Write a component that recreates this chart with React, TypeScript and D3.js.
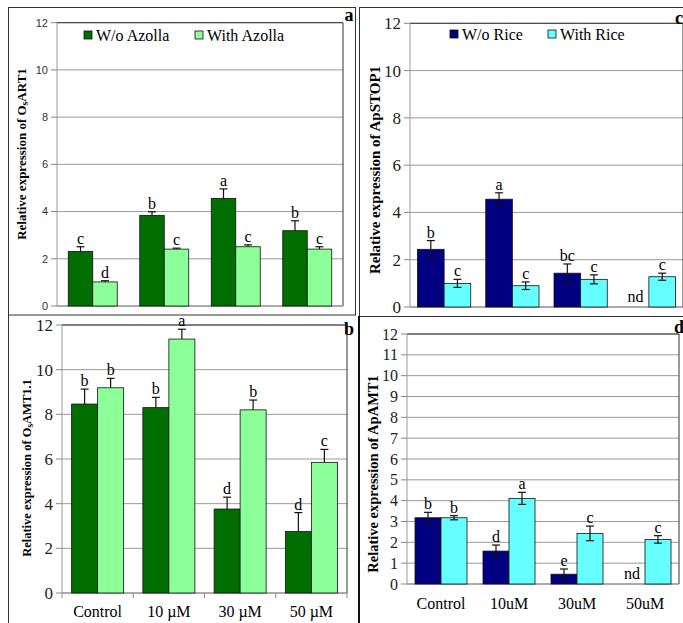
import React from 'react';
import * as d3 from 'd3';

// Categories
const dosesB = ['Control', '10 µM', '30 µM', '50 µM'];
const dosesD = ['Control', '10uM', '30uM', '50uM'];

// Panel a: OsART1
const art1Without = [2.31, 3.84, 4.56, 3.19];
const art1WithoutErr = [0.2, 0.15, 0.4, 0.42];
const art1WithoutLetters = ['c', 'b', 'a', 'b'];
const art1With = [1.02, 2.41, 2.51, 2.41];
const art1WithErr = [0.05, 0.04, 0.08, 0.1];
const art1WithLetters = ['d', 'c', 'c', 'c'];

// Panel c: ApSTOP1 (null = not detected)
const stopWithout = [2.44, 4.56, 1.43, null];
const stopWithoutErr = [0.37, 0.27, 0.39, 0];
const stopWithoutLetters = ['b', 'a', 'bc', 'nd'];
const stopWith = [1.0, 0.9, 1.17, 1.28];
const stopWithErr = [0.17, 0.16, 0.19, 0.15];
const stopWithLetters = ['c', 'c', 'c', 'c'];

// Panel b: OsAMT1.1
const amt11Without = [8.46, 8.3, 3.76, 2.75];
const amt11WithoutErr = [0.67, 0.46, 0.53, 0.85];
const amt11WithoutLetters = ['b', 'b', 'd', 'd'];
const amt11With = [9.19, 11.37, 8.2, 5.85];
const amt11WithErr = [0.42, 0.44, 0.44, 0.58];
const amt11WithLetters = ['b', 'a', 'b', 'c'];

// Panel d: ApAMT1
const apamtWithout = [3.18, 1.58, 0.47, null];
const apamtWithoutErr = [0.26, 0.29, 0.25, 0];
const apamtWithoutLetters = ['b', 'd', 'e', 'nd'];
const apamtWith = [3.18, 4.11, 2.43, 2.14];
const apamtWithErr = [0.1, 0.29, 0.35, 0.18];
const apamtWithLetters = ['b', 'a', 'c', 'c'];

const serif = '"Liberation Serif", "Times New Roman", serif';
const sans = '"Liberation Sans", Arial, sans-serif';

type Series = {
  values: (number | null)[];
  errs: number[];
  letters: string[];
  color: string;
};

type PanelProps = {
  x0: number; x1: number; y0: number; y1: number;
  pad: number;
  ticks: number[];
  tickFont: string; tickSize: number; tickColor: string;
  errBoth: boolean;
  series: Series[];
  categories: string[];
  xLabels?: string[];
  xLabelY?: number;
  xTickMarks?: boolean;
  yLabel: React.ReactNode;
  yLabelX: number; yLabelY: number; yLabelSize: number;
  legend?: { names: string[]; xs: number[]; y: number };
  tag: { text: string; x: number; y: number };
};

const Panel = (p: PanelProps) => {
  const y = d3.scaleLinear().domain([0, 12]).range([p.y1, p.y0]);
  const x = d3.scaleBand<string>().domain(p.categories).range([p.x0, p.x1])
    .paddingInner(p.pad).paddingOuter(p.pad / 2);
  const inner = d3.scaleBand<number>().domain(p.series.map((_, i) => i))
    .range([0, x.bandwidth()]);
  const bw = inner.bandwidth();

  return (
    <g>
      {p.ticks.map(t => (
        <g key={t}>
          <line x1={p.x0} x2={p.x1} y1={y(t)} y2={y(t)} stroke="#9a9a9a" strokeWidth={1} />
          <line x1={p.x0 - 6} x2={p.x0} y1={y(t)} y2={y(t)} stroke="#888" />
          <text x={p.x0 - 9} y={y(t)} dy="0.35em" textAnchor="end"
            fontFamily={p.tickFont} fontSize={p.tickSize} fill={p.tickColor}>{t}</text>
        </g>
      ))}
      <line x1={p.x0} x2={p.x1} y1={p.y0} y2={p.y0} stroke="#333" />
      <line x1={p.x1} x2={p.x1} y1={p.y0} y2={p.y1} stroke="#333" />
      <line x1={p.x0} x2={p.x0} y1={p.y0} y2={p.y1} stroke="#999" />
      <line x1={p.x0} x2={p.x1} y1={p.y1} y2={p.y1} stroke="#888" />
      {p.xTickMarks && d3.range(p.categories.length + 1).map(i => {
        const xx = p.x0 + (i * (p.x1 - p.x0)) / p.categories.length;
        return <line key={i} x1={xx} x2={xx} y1={p.y1} y2={p.y1 + 5} stroke="#888" />;
      })}
      {p.series.map((s, si) => (
        <g key={si}>
          {p.categories.map((c, ci) => {
            const v = s.values[ci];
            const bx = (x(c) as number) + (inner(si) as number);
            const cx = bx + bw / 2;
            if (v === null) {
              return (
                <text key={c} x={cx} y={p.y1 - 5} textAnchor="middle"
                  fontFamily={serif} fontSize={16}>{s.letters[ci]}</text>
              );
            }
            const e = s.errs[ci];
            const top = y(v + e);
            const bot = p.errBoth ? y(v - e) : y(v);
            return (
              <g key={c}>
                <rect x={bx} y={y(v)} width={bw} height={y(0) - y(v)}
                  fill={s.color} stroke="#111" strokeWidth={0.8} />
                <line x1={cx} x2={cx} y1={top} y2={bot} stroke="#111" strokeWidth={1.2} />
                <line x1={cx - 4} x2={cx + 4} y1={top} y2={top} stroke="#111" strokeWidth={1.2} />
                {p.errBoth && <line x1={cx - 4} x2={cx + 4} y1={bot} y2={bot} stroke="#111" strokeWidth={1.2} />}
                <text x={cx} y={top - 3} textAnchor="middle" fontFamily={serif}
                  fontSize={16}>{s.letters[ci]}</text>
              </g>
            );
          })}
        </g>
      ))}
      {p.xLabels && p.categories.map((c, ci) => (
        <text key={c} x={(x(c) as number) + x.bandwidth() / 2} y={p.xLabelY}
          textAnchor="middle" fontFamily={serif} fontSize={16}>{p.xLabels![ci]}</text>
      ))}
      <text transform={`translate(${p.yLabelX},${p.yLabelY}) rotate(-90)`} dy="0.35em"
        textAnchor="middle" fontFamily={serif} fontWeight="bold" fontSize={p.yLabelSize}>
        {p.yLabel}
      </text>
      {p.legend && p.series.map((s, si) => (
        <g key={si}>
          <rect x={p.legend!.xs[si]} y={p.legend!.y - 4} width={8} height={8}
            fill={s.color} stroke="#111" strokeWidth={0.8} />
          <text x={p.legend!.xs[si] + 12} y={p.legend!.y} dy="0.35em"
            fontFamily={serif} fontSize={16}>{p.legend!.names[si]}</text>
        </g>
      ))}
      <text x={p.tag.x} y={p.tag.y} textAnchor="middle" fontFamily={serif}
        fontWeight="bold" fontSize={18}>{p.tag.text}</text>
    </g>
  );
};

const darkGreen = '#006e00';
const lightGreen = '#8cff98';
const navy = '#000080';
const cyan = '#66ffff';

const ticks2 = d3.range(0, 13, 2);
const ticks1 = d3.range(0, 13, 1);

const App = () => (
  <svg width={683} height={623} style={{ position: 'absolute', left: 0, top: 0, background: '#fff' }}>
    <rect x={0} y={0} width={683} height={623} fill="#fff" />
    {/* panel frames */}
    <rect x={8.5} y={7.5} width={347} height={307.5} fill="none" stroke="#333" />
    <rect x={359.5} y={7.5} width={330} height={309} fill="none" stroke="#333" />
    <line x1={8.5} x2={8.5} y1={315} y2={623} stroke="#333" />
    <line x1={359} x2={359} y1={316} y2={623} stroke="#111" strokeWidth={2} />

    <Panel
      x0={57} x1={343} y0={22.7} y1={306} pad={0.315} ticks={ticks2}
      tickFont={sans} tickSize={11} tickColor="#333" errBoth={false}
      categories={dosesB}
      series={[
        { values: art1Without, errs: art1WithoutErr, letters: art1WithoutLetters, color: darkGreen },
        { values: art1With, errs: art1WithErr, letters: art1WithLetters, color: lightGreen },
      ]}
      yLabel={<>Relative expression of O<tspan fontSize="0.75em" dy="2">s</tspan><tspan dy="-2">ART1</tspan></>}
      yLabelX={21} yLabelY={154} yLabelSize={13}
      legend={{ names: ['W/o Azolla', 'With Azolla'], xs: [84, 195], y: 35 }}
      tag={{ text: 'a', x: 349, y: 21 }}
    />
    <Panel
      x0={410} x1={683} y0={23.3} y1={307} pad={0.22} ticks={ticks2}
      tickFont={serif} tickSize={17} tickColor="#222" errBoth={true}
      categories={dosesD}
      series={[
        { values: stopWithout, errs: stopWithoutErr, letters: stopWithoutLetters, color: navy },
        { values: stopWith, errs: stopWithErr, letters: stopWithLetters, color: cyan },
      ]}
      yLabel="Relative expression of ApSTOP1"
      yLabelX={375} yLabelY={170} yLabelSize={15}
      legend={{ names: ['W/o Rice', 'With Rice'], xs: [450, 548], y: 34 }}
      tag={{ text: 'c', x: 679, y: 24 }}
    />
    <Panel
      x0={62} x1={347} y0={325} y1={593} pad={0.27} ticks={ticks2}
      tickFont={serif} tickSize={17} tickColor="#222" errBoth={false}
      categories={dosesB} xLabels={dosesB} xLabelY={617} xTickMarks={true}
      series={[
        { values: amt11Without, errs: amt11WithoutErr, letters: amt11WithoutLetters, color: darkGreen },
        { values: amt11With, errs: amt11WithErr, letters: amt11WithLetters, color: lightGreen },
      ]}
      yLabel={<>Relative expression of O<tspan fontSize="0.75em" dy="2">s</tspan><tspan dy="-2">AMT1.1</tspan></>}
      yLabelX={27} yLabelY={468} yLabelSize={12.5}
      tag={{ text: 'b', x: 349, y: 335 }}
    />
    <Panel
      x0={407} x1={679} y0={334} y1={584} pad={0.235} ticks={ticks1}
      tickFont={serif} tickSize={16} tickColor="#222" errBoth={true}
      categories={dosesD} xLabels={dosesD} xLabelY={609}
      series={[
        { values: apamtWithout, errs: apamtWithoutErr, letters: apamtWithoutLetters, color: navy },
        { values: apamtWith, errs: apamtWithErr, letters: apamtWithLetters, color: cyan },
      ]}
      yLabel="Relative expression of ApAMT1"
      yLabelX={373} yLabelY={474} yLabelSize={14.5}
      tag={{ text: 'd', x: 679, y: 333 }}
    />
  </svg>
);

export default App;
